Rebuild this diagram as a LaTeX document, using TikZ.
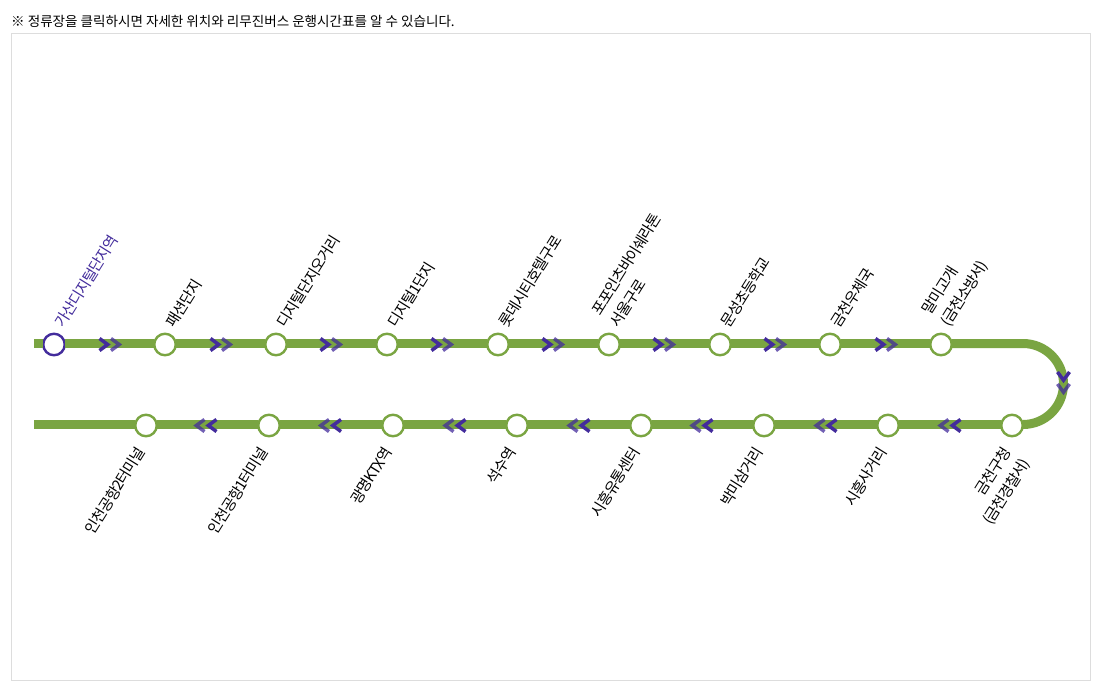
\documentclass[tikz,border=0pt]{standalone}
\usepackage{fontspec}
\setmainfont{Noto Sans CJK KR}[LetterSpace=-6.5]
\newfontfamily\notefont{Noto Sans CJK KR}
\definecolor{routegreen}{HTML}{7AA542}
\definecolor{routepurple}{HTML}{432C9C}
\definecolor{framegrey}{HTML}{DDDDDD}
\tikzset{
  x=1pt,y=-1pt,
  stop/.style={circle,draw=routegreen,fill=white,line width=2.4pt,minimum size=21.5pt,inner sep=0pt,outer sep=0pt},
  firststop/.style={stop,draw=routepurple},
  route/.style={draw=routegreen,line width=9pt,transform canvas={yshift=1pt}},
  toplabel/.style={rotate=58,anchor=south west,inner sep=0pt,align=left,font=\fontsize{15}{22}\selectfont,text=black},
  botlabel/.style={rotate=58,anchor=north east,inner sep=0pt,align=right,font=\fontsize{15}{22}\selectfont,text=black},
  chevd/.style={draw=routepurple,line width=3.5pt,line cap=butt,line join=miter},
  chevl/.style={chevd,opacity=.75},
}
\newcommand{\chevR}[1]{%
  \draw[chevd] (#1+0.5,338.5) -- (#1+8.7,344.5) -- (#1+0.5,350.5);
  \draw[chevl] (#1+12,338.5) -- (#1+20.2,344.5) -- (#1+12,350.5);}
\newcommand{\chevL}[1]{%
  \draw[chevl] (#1+11.5,419.5) -- (#1+3.3,425.5) -- (#1+11.5,431.5);
  \draw[chevd] (#1+23.5,419.5) -- (#1+15.3,425.5) -- (#1+23.5,431.5);}
\begin{document}
\begin{tikzpicture}
\useasboundingbox (0,0) rectangle (1103,694);
\fill[white] (0,0) rectangle (1103,694);
\draw[framegrey,line width=1pt] (11.5,33.5) rectangle (1090.5,680.5);
\node[anchor=west,inner sep=0pt,font=\notefont\fontsize{13.55}{16}\selectfont] (note) at (11,21) {{\bfseries ※} 정류장을 클릭하시면 자세한 위치와 리무진버스 운행시간표를 알 수 있습니다.};

\coordinate (ts) at (34,344.5);
\coordinate (tt) at (1023,344.5);
\coordinate (tb) at (1023,425.5);
\coordinate (te) at (34,425.5);

\node[firststop] (a1) at (54,344.5) {};
\node[stop] (a2) at (165,344.5) {};
\node[stop] (a3) at (276,344.5) {};
\node[stop] (a4) at (387,344.5) {};
\node[stop] (a5) at (498,344.5) {};
\node[stop] (a6) at (609,344.5) {};
\node[stop] (a7) at (720,344.5) {};
\node[stop] (a8) at (830,344.5) {};
\node[stop] (a9) at (941,344.5) {};
\node[stop] (b1) at (1012,425.5) {};
\node[stop] (b2) at (888,425.5) {};
\node[stop] (b3) at (764,425.5) {};
\node[stop] (b4) at (641,425.5) {};
\node[stop] (b5) at (517,425.5) {};
\node[stop] (b6) at (393,425.5) {};
\node[stop] (b7) at (269,425.5) {};
\node[stop] (b8) at (146,425.5) {};

\draw[route] (ts) -- (a1);
\draw[route] (a1) -- (a2);
\draw[route] (a2) -- (a3);
\draw[route] (a3) -- (a4);
\draw[route] (a4) -- (a5);
\draw[route] (a5) -- (a6);
\draw[route] (a6) -- (a7);
\draw[route] (a7) -- (a8);
\draw[route] (a8) -- (a9);
\draw[route] (a9) -- (tt) .. controls (1045.4,344.5) and (1063.5,362.6) .. (1063.5,385) .. controls (1063.5,407.4) and (1045.4,425.5) .. (tb) -- (b1);
\draw[route] (b1) -- (b2);
\draw[route] (b2) -- (b3);
\draw[route] (b3) -- (b4);
\draw[route] (b4) -- (b5);
\draw[route] (b5) -- (b6);
\draw[route] (b6) -- (b7);
\draw[route] (b7) -- (b8);
\draw[route] (b8) -- (te);

\foreach \x in {99,210,320,431,542,653,764,875} {\chevR{\x}}
\foreach \x in {193,317.5,442,566,689,813,937} {\chevL{\x}}
\draw[chevd] (1057.5,372) -- (1063.5,380.2) -- (1069.5,372);
\draw[chevl] (1057.5,384) -- (1063.5,392.2) -- (1069.5,384);

\node[toplabel,text=routepurple] (la1) at (65,329) {가산디지털단지역};
\node[toplabel] (la2) at (176,329) {패션단지};
\node[toplabel] (la3) at (287,329) {디지털단지오거리};
\node[toplabel] (la4) at (398,329) {디지털1단지};
\node[toplabel] (la5) at (509,329) {롯데시티호텔구로};
\node[toplabel] (la6) at (620,329) {포포인츠바이쉐라톤\\서울구로};
\node[toplabel] (la7) at (731,329) {문성초등학교};
\node[toplabel] (la8) at (841,329) {금천우체국};
\node[toplabel] (la9) at (952,329) {말미고개\\(금천소방서)};

\node[botlabel] (lb1) at (1001,445) {금천구청\\(금천경찰서)};
\node[botlabel] (lb2) at (877,445) {시흥사거리};
\node[botlabel] (lb3) at (753,445) {박미삼거리};
\node[botlabel] (lb4) at (630,445) {시흥유통센터};
\node[botlabel] (lb5) at (506,445) {석수역};
\node[botlabel] (lb6) at (382,445) {광명KTX역};
\node[botlabel] (lb7) at (258,445) {인천공항1터미널};
\node[botlabel] (lb8) at (135,445) {인천공항2터미널};
\end{tikzpicture}
\end{document}
